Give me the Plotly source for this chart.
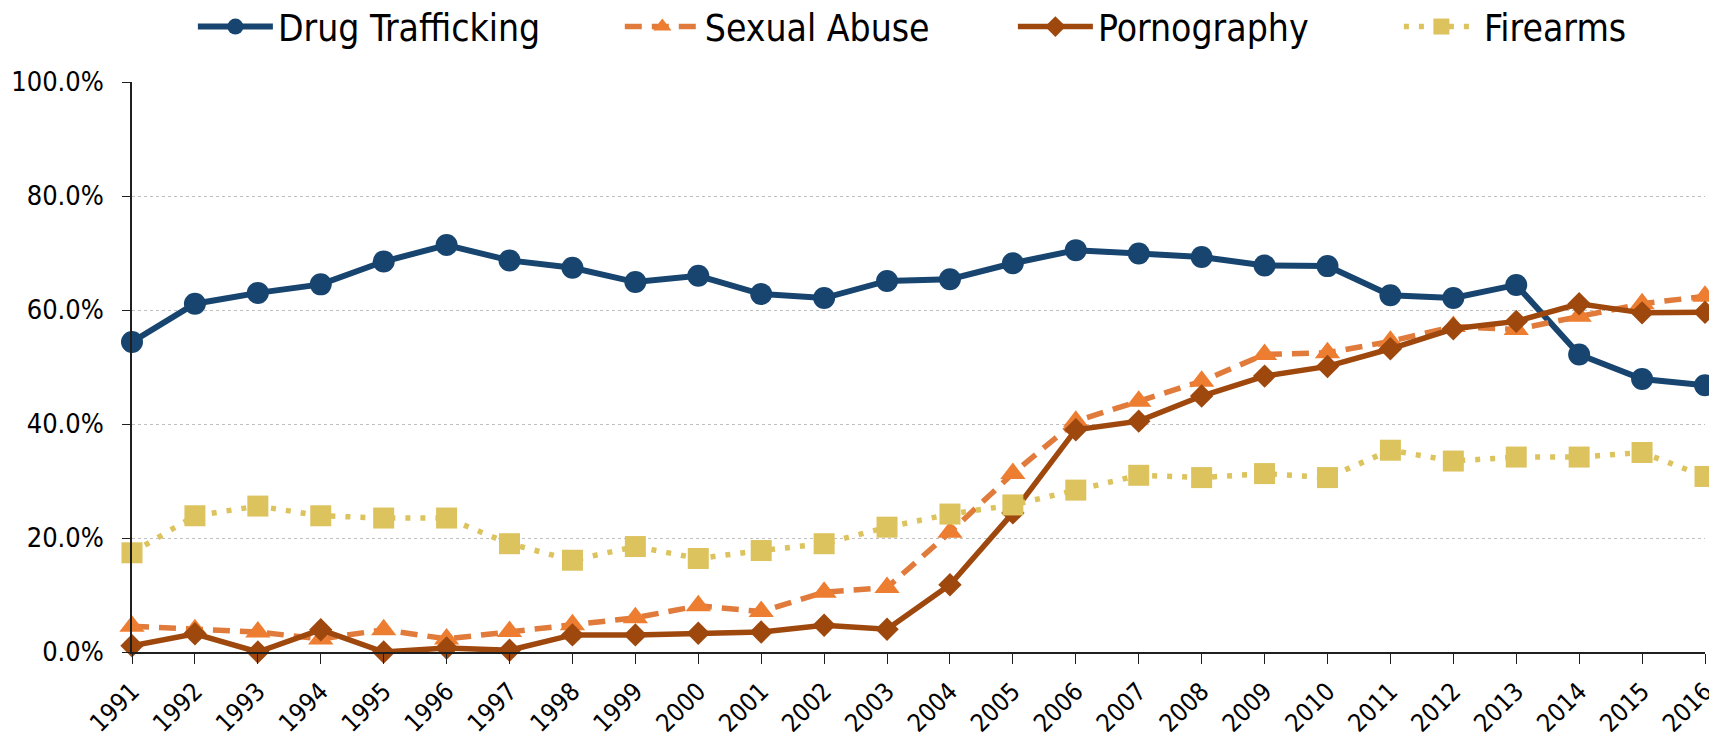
import plotly.graph_objects as go

years = list(range(1991, 2017))
drug = [54.4, 61.1, 63.0, 64.5, 68.5, 71.4, 68.7, 67.4, 64.9, 66.0, 62.8, 62.1, 65.1,
        65.4, 68.2, 70.5, 69.9, 69.3, 67.8, 67.7, 62.6, 62.1, 64.4, 52.2, 47.9, 46.8]
sexual = [4.5, 3.9, 3.5, 2.3, 3.9, 2.3, 3.6, 4.8, 6.0, 8.1, 7.1, 10.5, 11.3,
          21.0, 31.3, 40.5, 44.0, 47.5, 52.2, 52.5, 54.5, 57.1, 56.6, 58.9, 61.1, 62.4]
porn = [1.1, 3.2, 0.0, 3.9, 0.0, 0.7, 0.3, 3.0, 3.0, 3.3, 3.5, 4.7, 4.0,
        11.8, 24.4, 39.0, 40.5, 44.9, 48.4, 50.1, 53.2, 56.7, 58.0, 61.1, 59.5, 59.6]
fire = [17.4, 23.9, 25.6, 23.9, 23.5, 23.5, 19.0, 16.1, 18.5, 16.4, 17.8, 19.0, 21.9,
        24.2, 25.8, 28.4, 31.0, 30.6, 31.3, 30.6, 35.4, 33.5, 34.2, 34.2, 35.0, 30.8]
y_ticks = [0, 20, 40, 60, 80, 100]

FONT = "DejaVu Sans Condensed, Liberation Sans Narrow, sans-serif"
AXIS = "#1f1f1f"

fig = go.Figure()
fig.add_trace(go.Scatter(x=years, y=drug, name="Drug Trafficking", mode="lines+markers",
                         line=dict(color="#17456F", width=6),
                         marker=dict(symbol="circle", size=22, color="#17456F"),
                         cliponaxis=False, legend="legend"))
fig.add_trace(go.Scatter(x=years, y=sexual, name="Sexual Abuse", mode="lines+markers",
                         line=dict(color="#E07B3C", width=5.5, dash="17px,10px"),
                         marker=dict(symbol="triangle-up", size=22, color="#ED7D31"),
                         cliponaxis=False, legend="legend2"))
fig.add_trace(go.Scatter(x=years, y=porn, name="Pornography", mode="lines+markers",
                         line=dict(color="#9E480E", width=5.5),
                         marker=dict(symbol="diamond", size=18, color="#9E480E"),
                         cliponaxis=False, legend="legend3"))
fig.add_trace(go.Scatter(x=years, y=fire, name="Firearms", mode="lines+markers",
                         line=dict(color="#DCC35E", width=5.5, dash="5px,10px"),
                         marker=dict(symbol="square", size=21, color="#DCC35E"),
                         cliponaxis=False, legend="legend4"))

def leg(x):
    return dict(orientation="h", x=x, xanchor="left", y=1.0965, yanchor="middle",
                font=dict(size=37, family=FONT, color="black"), itemwidth=75,
                bgcolor="rgba(0,0,0,0)", borderwidth=0)

fig.update_layout(
    width=1709, height=730,
    margin=dict(l=124, r=12, t=74, b=86, autoexpand=False),
    paper_bgcolor="white", plot_bgcolor="white",
    font=dict(family=FONT, size=27, color="black"),
    showlegend=True,
    legend=leg(0.0387), legend2=leg(0.3101), legend3=leg(0.5600), legend4=leg(0.8054),
    xaxis=dict(range=[1991, 2016], tickvals=years, ticktext=[str(y) for y in years],
               tickangle=-45, tickfont=dict(size=25), showgrid=False, zeroline=False,
               showline=True, linecolor=AXIS, linewidth=1.5, ticklabeloverflow="allow",
               ticks="outside", ticklen=10, tickcolor=AXIS, ticklabelstandoff=3),
    yaxis=dict(range=[0, 100], tickvals=y_ticks, ticktext=[f"{v:.1f}%" for v in y_ticks],
               showgrid=True, gridcolor="#BFBFBF", griddash="3px,3px", gridwidth=1,
               zeroline=False, showline=True, linecolor=AXIS, linewidth=1.5,
               ticks="outside", ticklen=8, tickcolor=AXIS, ticklabelstandoff=13),
)

fig.write_html("out.html")
